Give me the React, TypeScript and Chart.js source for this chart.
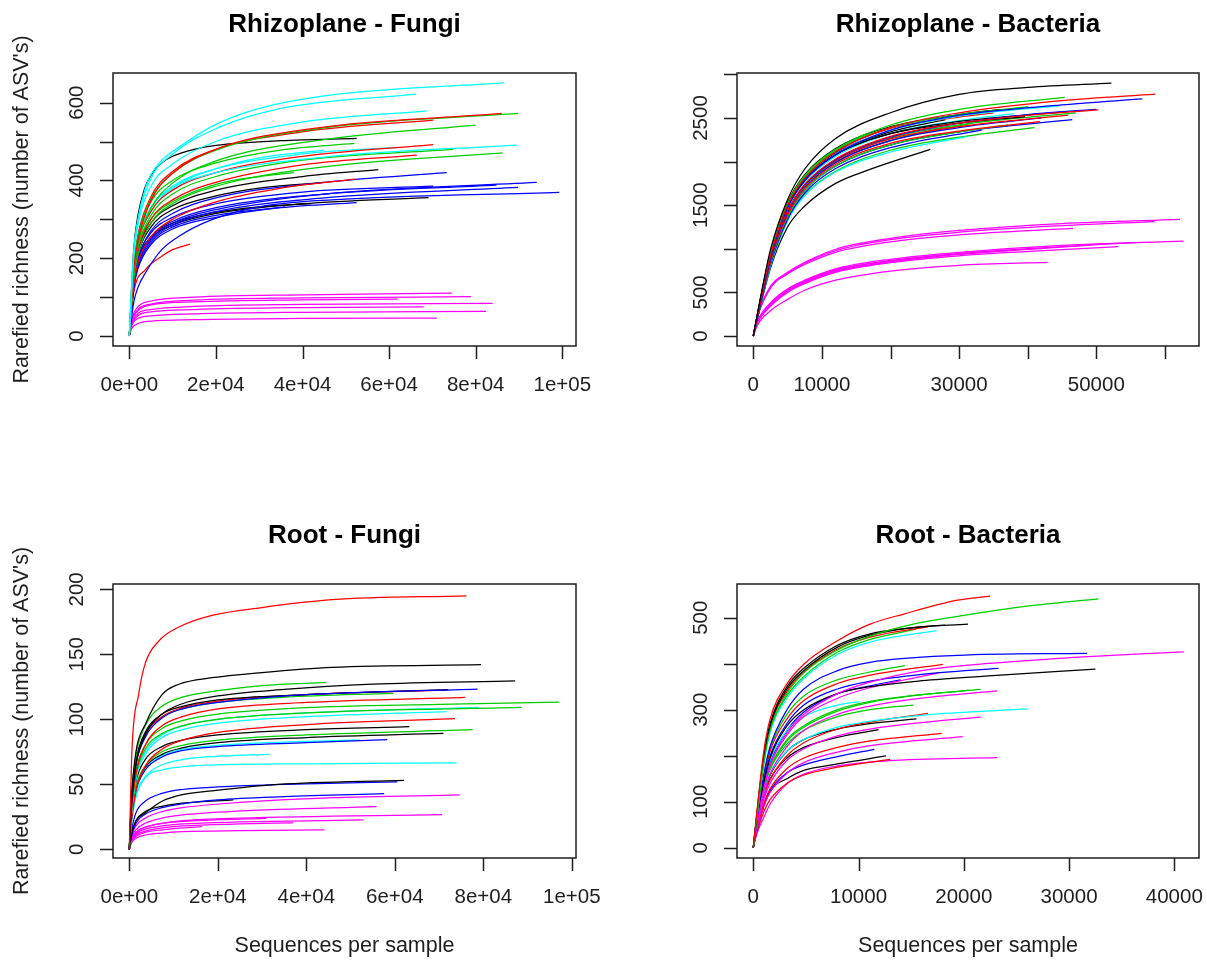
import React, { useEffect, useRef } from "react";
import { Chart, registerables } from "chart.js";

Chart.register(...registerables);

// ---------- colours per sample group ----------
const PALETTE: Record<string, string> = {
  k: "#000000",
  r: "#FF0000",
  g: "#00CD00",
  b: "#0000FF",
  c: "#00FFFF",
  m: "#FF00FF",
};

// ---------- Rhizoplane - Fungi ----------
const rfGroups = [
  "c", "c", "c", "r", "g", "r", "g", "k", "c", "r", "g", "g", "r", "c", "g", "c",
  "k", "r", "b", "g", "k", "b", "b", "b", "b", "b", "b", "b", "k", "k", "r",
  "m", "m", "m", "m", "m", "m", "m",
];
const rfCurves: number[][][] = [
  [[0, 0], [1000, 215], [2000, 300], [3700, 380], [5000, 415], [7500, 452], [11400, 485], [19100, 539], [30000, 585], [46800, 620], [86500, 651]],
  [[0, 0], [1000, 210], [2000, 295], [5000, 405], [10000, 468], [20000, 533], [35000, 585], [66200, 622]],
  [[0, 0], [1000, 200], [2000, 285], [5000, 385], [10000, 442], [20000, 500], [40000, 550], [68700, 579]],
  [[0, 0], [1000, 170], [2000, 245], [5000, 348], [10000, 418], [20000, 480], [40000, 530], [86000, 572]],
  [[0, 0], [1000, 175], [2000, 255], [5000, 352], [10000, 418], [20000, 478], [45000, 535], [89800, 572]],
  [[0, 0], [1000, 178], [2000, 258], [5000, 358], [10000, 423], [20000, 480], [40000, 525], [70200, 555]],
  [[0, 0], [1000, 165], [2000, 238], [5000, 328], [10000, 393], [20000, 450], [45000, 505], [80000, 542]],
  [[0, 0], [1000, 220], [2000, 310], [3500, 378], [5000, 413], [7500, 445], [10000, 462], [15000, 480], [20000, 490], [35000, 502], [52500, 508]],
  [[0, 0], [1000, 172], [2000, 248], [5000, 330], [10000, 380], [20000, 420], [45000, 460], [89500, 491]],
  [[0, 0], [1000, 165], [2000, 238], [5000, 320], [10000, 375], [20000, 420], [40000, 462], [70200, 492]],
  [[0, 0], [1000, 160], [2000, 228], [5000, 310], [10000, 365], [20000, 410], [40000, 452], [74800, 480]],
  [[0, 0], [1000, 145], [2000, 208], [5000, 290], [10000, 340], [20000, 385], [45000, 435], [86200, 471]],
  [[0, 0], [1000, 152], [2000, 218], [5000, 300], [10000, 350], [20000, 395], [40000, 440], [66400, 465]],
  [[0, 0], [1000, 172], [2000, 248], [5000, 330], [10000, 385], [20000, 430], [40000, 468], [62000, 485]],
  [[0, 0], [1000, 180], [2000, 258], [5000, 345], [10000, 400], [20000, 445], [35000, 478], [52000, 495]],
  [[0, 0], [1000, 165], [2000, 238], [5000, 320], [10000, 380], [20000, 430], [30000, 458], [45000, 478]],
  [[0, 0], [1000, 152], [2000, 218], [5000, 290], [10000, 335], [20000, 375], [40000, 410], [57500, 428]],
  [[0, 0], [1000, 130], [2000, 188], [5000, 255], [10000, 300], [20000, 345], [35000, 380], [52100, 403]],
  [[0, 0], [1000, 138], [2000, 198], [5000, 270], [10000, 315], [20000, 355], [45000, 395], [73300, 420]],
  [[0, 0], [1000, 160], [2000, 228], [5000, 300], [10000, 345], [20000, 390], [30000, 410], [38000, 420]],
  [[0, 0], [1000, 145], [2000, 208], [5000, 280], [10000, 325], [20000, 360], [30000, 380], [45000, 395]],
  [[0, 0], [1000, 130], [2000, 188], [5000, 250], [10000, 290], [20000, 325], [45000, 365], [94100, 395]],
  [[0, 0], [1000, 128], [2000, 183], [5000, 245], [10000, 285], [20000, 320], [45000, 355], [89800, 382]],
  [[0, 0], [1000, 130], [2000, 188], [5000, 255], [10000, 295], [20000, 330], [45000, 365], [84800, 388]],
  [[0, 0], [1000, 85], [2000, 125], [3700, 162], [7500, 222], [11400, 256], [19100, 299], [30600, 333], [46800, 350], [99300, 369]],
  [[0, 0], [1000, 138], [2000, 198], [5000, 265], [10000, 305], [20000, 340], [40000, 370], [70200, 385]],
  [[0, 0], [1000, 120], [2000, 173], [5000, 235], [10000, 275], [20000, 305], [35000, 330], [52500, 343]],
  [[0, 0], [1000, 125], [2000, 178], [5000, 240], [10000, 280], [20000, 310], [36000, 332]],
  [[0, 0], [1000, 130], [2000, 188], [5000, 250], [10000, 285], [20000, 315], [40000, 340], [69100, 356]],
  [[0, 0], [1000, 135], [2000, 193], [5000, 255], [10000, 290], [20000, 318], [30000, 332], [42000, 340]],
  [[0, 0], [1000, 110], [3700, 170], [7500, 205], [10000, 222], [14000, 236]],
  [[0, 0], [500, 40], [2000, 75], [5000, 90], [15000, 100], [40000, 106], [74500, 110]],
  [[0, 0], [500, 35], [2000, 68], [5000, 82], [15000, 92], [40000, 98], [78900, 101]],
  [[0, 0], [500, 30], [2000, 58], [5000, 68], [15000, 76], [40000, 81], [83900, 84]],
  [[0, 0], [500, 25], [2000, 45], [5000, 52], [15000, 57], [40000, 61], [82400, 63]],
  [[0, 0], [500, 18], [2000, 32], [5000, 38], [15000, 42], [40000, 45], [71000, 46]],
  [[0, 0], [500, 35], [2000, 65], [5000, 80], [15000, 88], [40000, 93], [62000, 95]],
  [[0, 0], [500, 28], [2000, 52], [5000, 62], [15000, 68], [40000, 73], [68000, 75]],
];
const rfXTicks = [0, 20000, 40000, 60000, 80000, 100000];
const rfXTickLabels = ["0e+00", "2e+04", "4e+04", "6e+04", "8e+04", "1e+05"];
const rfYTicks = [0, 100, 200, 300, 400, 500, 600];
const rfYTickLabels = ["0", "", "200", "", "400", "", "600"];

// ---------- Rhizoplane - Bacteria ----------
const rbGroups = [
  "k", "r", "b", "g", "r", "b", "k", "g", "c", "k", "r", "r", "g", "b", "c", "k",
  "g", "b", "k", "r", "c", "g", "k", "b", "r", "g",
  "m", "m", "m", "m", "m", "m", "m", "m", "m",
];
const rbCurves: number[][][] = [
  [[0, 0], [1000, 420], [2500, 990], [5000, 1565], [7500, 1915], [12000, 2265], [20000, 2560], [30000, 2770], [40000, 2850], [52200, 2900]],
  [[0, 0], [1000, 380], [2500, 920], [5000, 1500], [7500, 1810], [12000, 2110], [20000, 2390], [30000, 2560], [45000, 2700], [58600, 2775]],
  [[0, 0], [1000, 370], [2500, 900], [5000, 1470], [7500, 1780], [12000, 2080], [20000, 2360], [30000, 2530], [45000, 2650], [56700, 2718]],
  [[0, 0], [1000, 390], [2500, 940], [5000, 1520], [7500, 1840], [12000, 2140], [20000, 2420], [30000, 2600], [45400, 2737]],
  [[0, 0], [1000, 370], [2500, 880], [5000, 1430], [7500, 1740], [12000, 2030], [20000, 2290], [30000, 2440], [40000, 2530], [50300, 2592]],
  [[0, 0], [1000, 360], [2500, 870], [5000, 1420], [7500, 1730], [12000, 2020], [20000, 2280], [30000, 2440], [40000, 2540], [50000, 2600]],
  [[0, 0], [1000, 390], [2500, 930], [5000, 1480], [7500, 1790], [12000, 2080], [20000, 2320], [30000, 2440], [39600, 2515]],
  [[0, 0], [1000, 400], [2500, 950], [5000, 1510], [7500, 1830], [12000, 2130], [20000, 2390], [30000, 2540], [40100, 2630]],
  [[0, 0], [1000, 380], [2500, 910], [5000, 1480], [7500, 1790], [12000, 2090], [20000, 2360], [30000, 2520], [44500, 2640]],
  [[0, 0], [1000, 400], [2500, 950], [5000, 1500], [7500, 1800], [12000, 2080], [20000, 2320], [30000, 2460], [45900, 2572]],
  [[0, 0], [1000, 370], [2500, 880], [5000, 1430], [7500, 1730], [12000, 2010], [20000, 2260], [30000, 2400], [45900, 2534]],
  [[0, 0], [1000, 360], [2500, 860], [5000, 1390], [7500, 1690], [12000, 1970], [20000, 2210], [30000, 2350], [41800, 2458]],
  [[0, 0], [1000, 350], [2500, 840], [5000, 1370], [7500, 1670], [12000, 1950], [20000, 2190], [30000, 2340], [37200, 2420]],
  [[0, 0], [1000, 340], [2500, 820], [5000, 1340], [7500, 1640], [12000, 1920], [20000, 2160], [33300, 2362]],
  [[0, 0], [1000, 330], [2500, 800], [5000, 1320], [7500, 1610], [12000, 1880], [20000, 2110], [31100, 2286]],
  [[0, 0], [1000, 330], [2500, 780], [5000, 1250], [7500, 1490], [12000, 1750], [17000, 1910], [25800, 2140]],
  [[0, 0], [1000, 360], [2500, 870], [5000, 1420], [7500, 1720], [12000, 2010], [20000, 2270], [30000, 2420], [47000, 2560]],
  [[0, 0], [1000, 350], [2500, 850], [5000, 1400], [7500, 1700], [12000, 1990], [20000, 2240], [30000, 2390], [42000, 2500]],
  [[0, 0], [1000, 410], [2500, 960], [5000, 1530], [7500, 1850], [12000, 2150], [20000, 2400], [30000, 2540], [36000, 2600]],
  [[0, 0], [1000, 400], [2500, 950], [5000, 1520], [7500, 1830], [12000, 2120], [20000, 2380], [30000, 2510], [35000, 2560]],
  [[0, 0], [1000, 370], [2500, 900], [5000, 1460], [7500, 1770], [12000, 2060], [20000, 2320], [30000, 2470], [38000, 2550]],
  [[0, 0], [1000, 360], [2500, 870], [5000, 1410], [7500, 1710], [12000, 1990], [20000, 2240], [32000, 2440]],
  [[0, 0], [1000, 400], [2500, 940], [5000, 1490], [7500, 1800], [12000, 2100], [20000, 2340], [28000, 2480]],
  [[0, 0], [1000, 340], [2500, 830], [5000, 1370], [7500, 1670], [12000, 1950], [20000, 2190], [30000, 2340], [46500, 2480]],
  [[0, 0], [1000, 370], [2500, 880], [5000, 1420], [7500, 1720], [12000, 2000], [20000, 2240], [28500, 2400]],
  [[0, 0], [1000, 330], [2500, 800], [5000, 1330], [7500, 1620], [12000, 1890], [20000, 2130], [30000, 2280], [41000, 2390]],
  [[0, 0], [500, 200], [2500, 569], [5000, 730], [7500, 845], [12000, 995], [20000, 1120], [30000, 1210], [45000, 1290], [62200, 1338]],
  [[0, 0], [500, 190], [2500, 550], [5000, 710], [7500, 820], [12000, 960], [20000, 1080], [30000, 1160], [46600, 1234]],
  [[0, 0], [500, 195], [2500, 560], [5000, 720], [7500, 835], [12000, 980], [20000, 1105], [30000, 1190], [45000, 1265], [58500, 1311]],
  [[0, 0], [500, 150], [2500, 380], [5000, 540], [7500, 640], [12000, 770], [20000, 880], [30000, 960], [45000, 1040], [62700, 1089]],
  [[0, 0], [500, 140], [2500, 360], [5000, 520], [7500, 620], [12000, 750], [20000, 860], [30000, 945], [45000, 1025], [55600, 1070]],
  [[0, 0], [500, 130], [2500, 340], [5000, 500], [7500, 600], [12000, 730], [20000, 840], [30000, 920], [45000, 990], [53200, 1024]],
  [[0, 0], [500, 140], [2500, 370], [5000, 530], [7500, 630], [12000, 760], [20000, 865], [30000, 945], [41100, 1005]],
  [[0, 0], [500, 135], [2500, 350], [5000, 510], [7500, 610], [12000, 740], [20000, 850], [30000, 935], [49300, 1043]],
  [[0, 0], [500, 110], [2500, 290], [5000, 420], [7500, 525], [12000, 640], [20000, 745], [30000, 810], [42900, 844]],
];
const rbXTicks = [0, 10000, 20000, 30000, 40000, 50000, 60000];
const rbXTickLabels = ["0", "10000", "", "30000", "", "50000", ""];
const rbYTicks = [0, 500, 1000, 1500, 2000, 2500, 3000];
const rbYTickLabels = ["0", "500", "", "1500", "", "2500", ""];

// ---------- Root - Fungi ----------
const rtfGroups = [
  "r", "k", "k", "g", "b", "k", "r", "g", "r", "g", "g", "c", "c", "r", "g", "k",
  "k", "b", "c", "c", "c", "k", "b", "b", "k",
  "m", "m", "m", "m", "m", "m", "m", "m",
];
const rtfCurves: number[][][] = [
  [[0, 0], [600, 76], [2100, 119], [3600, 143], [6600, 160], [11200, 171], [18700, 180], [30000, 186], [45800, 192], [76200, 195]],
  [[0, 0], [500, 40], [1500, 75], [3600, 96], [7400, 119], [11200, 127], [18700, 132], [30000, 136], [45800, 140], [79500, 142]],
  [[0, 0], [500, 35], [1500, 65], [3600, 88], [7400, 104], [12000, 112], [20000, 118], [35000, 123], [55000, 127], [87200, 129.5]],
  [[0, 0], [500, 40], [1500, 72], [3600, 95], [7400, 110], [12000, 117], [20000, 122], [30000, 126], [44500, 128.4]],
  [[0, 0], [500, 35], [1500, 65], [3600, 86], [7400, 101], [12000, 108], [20000, 113], [40000, 119], [78700, 123.3]],
  [[0, 0], [500, 38], [1500, 68], [3600, 90], [7400, 104], [12000, 110], [20000, 115], [40000, 119], [72100, 122.8]],
  [[0, 0], [500, 36], [1500, 66], [3600, 88], [7400, 102], [12000, 109], [20000, 114], [40000, 119], [71700, 122.5]],
  [[0, 0], [500, 38], [1500, 67], [3600, 88], [7400, 102], [12000, 108], [20000, 113], [35000, 117], [59700, 120]],
  [[0, 0], [500, 30], [1500, 58], [3600, 80], [7400, 95], [12000, 102], [20000, 108], [40000, 113], [75900, 116.9]],
  [[0, 0], [500, 32], [1500, 60], [3600, 80], [7400, 93], [12000, 99], [20000, 104], [40000, 109], [70000, 111.5], [97200, 113.3]],
  [[0, 0], [500, 30], [1500, 57], [3600, 77], [7400, 89], [12000, 95], [20000, 100], [40000, 105], [88700, 109.2]],
  [[0, 0], [500, 28], [1500, 55], [3600, 75], [7400, 88], [12000, 95], [20000, 100], [40000, 105], [78900, 109.2]],
  [[0, 0], [500, 28], [1500, 54], [3600, 73], [7400, 86], [12000, 92], [20000, 97], [40000, 102], [71700, 105.9]],
  [[0, 0], [500, 22], [1500, 45], [3600, 64], [7400, 77], [12000, 84], [20000, 90], [40000, 96], [73600, 100.5]],
  [[0, 0], [500, 25], [1500, 48], [3600, 64], [7400, 75], [12000, 80], [20000, 84], [40000, 88], [77600, 92]],
  [[0, 0], [500, 28], [1500, 52], [3600, 69], [7400, 79], [12000, 84], [20000, 88], [40000, 92], [63300, 94.3]],
  [[0, 0], [500, 25], [1500, 47], [3600, 63], [7400, 73], [12000, 78], [20000, 82], [40000, 86], [71000, 89.2]],
  [[0, 0], [500, 24], [1500, 45], [3600, 61], [7400, 71], [12000, 76], [20000, 79], [40000, 82], [58300, 84.4]],
  [[0, 0], [500, 26], [1500, 48], [3600, 63], [7400, 72], [12000, 77], [20000, 80], [35000, 82.5], [52100, 84.1]],
  [[0, 0], [500, 22], [1500, 42], [3600, 56], [7400, 65], [12000, 69], [20000, 71.5], [31800, 73.1]],
  [[0, 0], [500, 20], [1500, 40], [3600, 55], [7400, 61], [12000, 63.5], [20000, 65], [40000, 65.8], [74000, 66.4]],
  [[0, 0], [500, 12], [1500, 22], [3600, 28], [7400, 37], [12000, 42], [18700, 45], [33700, 50], [62100, 53.1]],
  [[0, 0], [500, 14], [1500, 28], [3600, 37], [7400, 43], [12000, 46], [20000, 48], [35000, 50], [60600, 51.8]],
  [[0, 0], [500, 10], [1500, 20], [3600, 27], [7400, 32], [12000, 35], [20000, 38], [35000, 40.5], [57600, 42.8]],
  [[0, 0], [500, 12], [1500, 22], [3600, 29], [7400, 33], [12000, 35.5], [23500, 38]],
  [[0, 0], [500, 10], [1500, 18], [3600, 24], [7400, 29], [12000, 32], [25000, 36], [45000, 39.5], [74700, 41.8]],
  [[0, 0], [500, 9], [1500, 15], [3600, 20], [7400, 24], [12000, 26.5], [25000, 29.5], [55900, 32.8]],
  [[0, 0], [500, 8], [1500, 13], [3600, 17], [7400, 20], [12000, 22], [25000, 24], [70700, 26.7]],
  [[0, 0], [500, 7], [1500, 12], [3600, 15.5], [7400, 18], [12000, 19.5], [25000, 21], [52900, 22.6]],
  [[0, 0], [500, 7], [1500, 11], [3600, 14], [7400, 16.5], [12000, 18], [25000, 19.5], [37100, 20.3]],
  [[0, 0], [500, 5], [1500, 8.5], [3600, 11], [7400, 12.5], [12000, 13.5], [25000, 14.3], [44100, 14.9]],
  [[0, 0], [500, 6], [1500, 10], [3600, 13], [7400, 15], [12000, 16.5], [16400, 17.4]],
  [[0, 0], [500, 7], [1500, 13], [3600, 17], [7400, 20], [12000, 21.5], [20000, 22.8], [31000, 23.8]],
];
const rtfXTicks = [0, 20000, 40000, 60000, 80000, 100000];
const rtfXTickLabels = ["0e+00", "2e+04", "4e+04", "6e+04", "8e+04", "1e+05"];
const rtfYTicks = [0, 50, 100, 150, 200];
const rtfYTickLabels = ["0", "50", "100", "150", "200"];

// ---------- Root - Bacteria ----------
const rtbGroups = [
  "r", "g", "k", "k", "r", "c", "g", "b", "m", "k", "b", "r", "g", "m", "g", "m",
  "g", "c", "c", "g", "m", "r", "k", "r", "m", "k", "b", "k", "r", "m", "b",
];
const rtbCurves: number[][][] = [
  [[0, 0], [300, 70], [1000, 210], [1600, 280], [3200, 356], [4800, 399], [8000, 450], [11100, 486], [14300, 508], [19400, 538], [22500, 547]],
  [[0, 0], [300, 60], [1000, 185], [1600, 255], [3200, 335], [4800, 380], [8000, 430], [11100, 460], [15000, 485], [20000, 505], [26000, 525], [32800, 541]],
  [[0, 0], [300, 65], [1000, 195], [1600, 265], [3200, 345], [4800, 385], [8000, 436], [11100, 462], [15000, 478], [20400, 486]],
  [[0, 0], [300, 65], [1000, 200], [1600, 270], [3200, 350], [4800, 390], [8000, 440], [11100, 465], [15000, 478], [18200, 484]],
  [[0, 0], [300, 60], [1000, 190], [1600, 262], [3200, 340], [4800, 382], [8000, 432], [11100, 458], [16600, 480]],
  [[0, 0], [300, 58], [1000, 180], [1600, 250], [3200, 325], [4800, 368], [8000, 420], [11100, 447], [17400, 472]],
  [[0, 0], [300, 60], [1000, 185], [1600, 255], [3200, 330], [4800, 372], [8000, 425], [11100, 453], [15500, 475]],
  [[0, 0], [300, 55], [1000, 160], [1600, 220], [3200, 300], [4800, 345], [8000, 385], [11100, 403], [19400, 418], [31700, 422.6]],
  [[0, 0], [300, 45], [1000, 130], [1600, 180], [3200, 250], [4800, 290], [8000, 335], [11100, 360], [16000, 385], [22000, 400], [30000, 413], [40900, 426]],
  [[0, 0], [300, 50], [1000, 140], [1600, 195], [3200, 265], [4800, 300], [8000, 335], [11100, 350], [16000, 363], [22000, 373], [32500, 388]],
  [[0, 0], [300, 50], [1000, 145], [1600, 200], [3200, 270], [4800, 310], [8000, 345], [11100, 362], [16000, 377], [23300, 390]],
  [[0, 0], [300, 52], [1000, 150], [1600, 210], [3200, 280], [4800, 320], [8000, 357], [11100, 375], [18000, 398.7]],
  [[0, 0], [300, 55], [1000, 155], [1600, 215], [3200, 290], [4800, 330], [8000, 365], [11100, 382], [14400, 395.8]],
  [[0, 0], [300, 45], [1000, 130], [1600, 180], [3200, 245], [4800, 285], [8000, 325], [11100, 348], [17600, 380]],
  [[0, 0], [300, 50], [1000, 130], [1600, 175], [3200, 235], [4800, 265], [8000, 300], [11100, 318], [16000, 333], [21600, 344]],
  [[0, 0], [300, 42], [1000, 115], [1600, 160], [3200, 220], [4800, 255], [8000, 290], [11100, 308], [16000, 325], [23200, 340.7]],
  [[0, 0], [300, 48], [1000, 128], [1600, 172], [3200, 232], [4800, 262], [8000, 297], [11100, 316], [15000, 330], [20500, 342]],
  [[0, 0], [300, 45], [1000, 120], [1600, 160], [3200, 210], [4800, 235], [8000, 262], [11100, 275], [17000, 290], [26100, 301.6]],
  [[0, 0], [300, 50], [1000, 140], [1600, 190], [3200, 255], [4800, 285], [8000, 310], [10100, 317.5]],
  [[0, 0], [300, 48], [1000, 125], [1600, 170], [3200, 225], [4800, 255], [8000, 285], [11100, 300], [15200, 310]],
  [[0, 0], [300, 40], [1000, 105], [1600, 140], [3200, 190], [4800, 215], [8000, 243], [11100, 258], [16000, 272], [21600, 284]],
  [[0, 0], [300, 42], [1000, 110], [1600, 148], [3200, 200], [4800, 228], [8000, 258], [11100, 273], [16600, 292]],
  [[0, 0], [300, 45], [1000, 115], [1600, 150], [3200, 195], [4800, 218], [8000, 240], [11900, 256.7]],
  [[0, 0], [300, 38], [1000, 95], [1600, 128], [3200, 172], [4800, 195], [8000, 218], [11100, 232], [17900, 248.7]],
  [[0, 0], [300, 35], [1000, 90], [1600, 120], [3200, 162], [4800, 185], [8000, 208], [11100, 222], [19900, 241.4]],
  [[0, 0], [300, 45], [1000, 118], [1600, 158], [3200, 210], [4800, 235], [8000, 258], [11100, 270], [15500, 280]],
  [[0, 0], [300, 38], [1000, 95], [1600, 125], [3200, 163], [4800, 180], [8000, 198], [11500, 214]],
  [[0, 0], [300, 35], [1000, 90], [1600, 124], [3200, 150], [4800, 168], [8000, 182], [12600, 199.4]],
  [[0, 0], [300, 30], [1000, 78], [1600, 105], [3200, 140], [4800, 158], [8000, 175], [13000, 192]],
  [[0, 0], [300, 28], [1000, 66], [1600, 95], [3200, 139], [4800, 160], [8000, 178], [12700, 189], [23200, 195.8]],
  [[0, 0], [300, 48], [1000, 135], [1600, 185], [3200, 255], [4800, 295], [8000, 335], [11100, 352], [14000, 365]],
];
const rtbXTicks = [0, 10000, 20000, 30000, 40000];
const rtbXTickLabels = ["0", "10000", "20000", "30000", "40000"];
const rtbYTicks = [0, 100, 200, 300, 400, 500];
const rtbYTickLabels = ["0", "100", "", "300", "", "500"];

const Y_TITLE = "Rarefied richness (number of ASV's)";
const X_TITLE = "Sequences per sample";

// ---------- layout (pixels) ----------
type Box = { left: number; top: number; right: number; bottom: number };
type Frame = { left: number; top: number; width: number; height: number };
type PanelSpec = {
  title: string;
  groups: string[];
  curves: number[][][];
  xTicks: number[];
  xTickLabels: string[];
  yTicks: number[];
  yTickLabels: string[];
  xLim: [number, number];
  yLim: [number, number];
  xTitle: string | null;
  yTitle: string | null;
  frame: Frame;
  box: Box;
};

const PANELS: PanelSpec[] = [
  {
    title: "Rhizoplane - Fungi",
    groups: rfGroups,
    curves: rfCurves,
    xTicks: rfXTicks,
    xTickLabels: rfXTickLabels,
    yTicks: rfYTicks,
    yTickLabels: rfYTickLabels,
    xLim: [-3764, 103163],
    yLim: [-25.7, 676.1],
    xTitle: null,
    yTitle: Y_TITLE,
    frame: { left: 0, top: 0, width: 604, height: 483 },
    box: { left: 113, top: 73, right: 576, bottom: 346 },
  },
  {
    title: "Rhizoplane - Bacteria",
    groups: rbGroups,
    curves: rbCurves,
    xTicks: rbXTicks,
    xTickLabels: rbXTickLabels,
    yTicks: rbYTicks,
    yTickLabels: rbYTickLabels,
    xLim: [-2376, 64970],
    yLim: [-114.7, 3016],
    xTitle: null,
    yTitle: null,
    frame: { left: 604, top: 0, width: 603, height: 483 },
    box: { left: 737, top: 73, right: 1199, bottom: 346 },
  },
  {
    title: "Root - Fungi",
    groups: rtfGroups,
    curves: rtfCurves,
    xTicks: rtfXTicks,
    xTickLabels: rtfXTickLabels,
    yTicks: rtfYTicks,
    yTickLabels: rtfYTickLabels,
    xLim: [-3684, 100954],
    yLim: [-6.7, 204.1],
    xTitle: X_TITLE,
    yTitle: Y_TITLE,
    frame: { left: 0, top: 483, width: 604, height: 483 },
    box: { left: 113, top: 584, right: 576, bottom: 858 },
  },
  {
    title: "Root - Bacteria",
    groups: rtbGroups,
    curves: rtbCurves,
    xTicks: rtbXTicks,
    xTickLabels: rtbXTickLabels,
    yTicks: rtbYTicks,
    yTickLabels: rtbYTickLabels,
    xLim: [-1549, 42346],
    yLim: [-22.4, 573.3],
    xTitle: X_TITLE,
    yTitle: null,
    frame: { left: 604, top: 483, width: 603, height: 483 },
    box: { left: 737, top: 584, right: 1199, bottom: 858 },
  },
];

const FONT = '"Liberation Sans", Arial, Helvetica, sans-serif';
const INK = "#1e1e1e";

function Panel({ spec }: { spec: PanelSpec }) {
  const ref = useRef<HTMLCanvasElement | null>(null);

  useEffect(() => {
    const canvas = ref.current;
    if (!canvas) return;
    const f = spec.frame;
    const b = spec.box;

    const datasets = spec.curves.map((pts, i) => ({
      label: `s${i + 1}`,
      data: pts.map(([x, y]) => ({ x, y })),
      borderColor: PALETTE[spec.groups[i]],
      backgroundColor: PALETTE[spec.groups[i]],
      borderWidth: 1.25,
      pointRadius: 0,
      pointHoverRadius: 0,
      fill: false,
      cubicInterpolationMode: "monotone" as const,
    }));

    const rFrame = {
      id: "rFrame",
      afterDraw(chart: any) {
        const ctx = chart.ctx as CanvasRenderingContext2D;
        const ca = chart.chartArea;
        const xs = chart.scales.x;
        const ys = chart.scales.y;
        ctx.save();
        ctx.strokeStyle = INK;
        ctx.lineWidth = 1.5;
        ctx.strokeRect(ca.left, ca.top, ca.right - ca.left, ca.bottom - ca.top);

        ctx.beginPath();
        spec.xTicks.forEach((v) => {
          const px = Math.round(xs.getPixelForValue(v)) + 0.5;
          ctx.moveTo(px, ca.bottom);
          ctx.lineTo(px, ca.bottom + 13);
        });
        spec.yTicks.forEach((v) => {
          const py = Math.round(ys.getPixelForValue(v)) + 0.5;
          ctx.moveTo(ca.left, py);
          ctx.lineTo(ca.left - 13, py);
        });
        ctx.stroke();

        ctx.fillStyle = INK;
        ctx.font = `20.5px ${FONT}`;
        ctx.textAlign = "center";
        ctx.textBaseline = "alphabetic";
        spec.xTicks.forEach((v, i) => {
          const t = spec.xTickLabels[i];
          if (t) ctx.fillText(t, xs.getPixelForValue(v), ca.bottom + 45);
        });
        spec.yTicks.forEach((v, i) => {
          const t = spec.yTickLabels[i];
          if (!t) return;
          ctx.save();
          ctx.translate(ca.left - 30.5, ys.getPixelForValue(v));
          ctx.rotate(-Math.PI / 2);
          ctx.fillText(t, 0, 0);
          ctx.restore();
        });

        ctx.fillStyle = "#000";
        ctx.font = `bold 26px ${FONT}`;
        ctx.fillText(spec.title, (ca.left + ca.right) / 2, ca.top - 41);

        ctx.fillStyle = INK;
        ctx.font = `21.5px ${FONT}`;
        if (spec.xTitle) {
          ctx.fillText(spec.xTitle, (ca.left + ca.right) / 2, ca.bottom + 94);
        }
        if (spec.yTitle) {
          ctx.save();
          ctx.translate(ca.left - 85, (ca.top + ca.bottom) / 2);
          ctx.rotate(-Math.PI / 2);
          ctx.fillText(spec.yTitle, 0, 0);
          ctx.restore();
        }
        ctx.restore();
      },
    };

    const chart = new Chart(canvas, {
      type: "line",
      data: { datasets },
      options: {
        responsive: false,
        animation: false,
        devicePixelRatio: 1,
        events: [],
        layout: {
          padding: {
            left: b.left - f.left,
            top: b.top - f.top,
            right: f.left + f.width - b.right,
            bottom: f.top + f.height - b.bottom,
          },
        },
        plugins: {
          legend: { display: false },
          tooltip: { enabled: false },
          title: { display: false },
        },
        scales: {
          x: { type: "linear", min: spec.xLim[0], max: spec.xLim[1], display: false },
          y: { type: "linear", min: spec.yLim[0], max: spec.yLim[1], display: false },
        },
      },
      plugins: [rFrame],
    });

    return () => chart.destroy();
  }, [spec]);

  const f = spec.frame;
  return (
    <canvas
      ref={ref}
      width={f.width}
      height={f.height}
      style={{ position: "absolute", left: f.left, top: f.top, width: f.width, height: f.height }}
    />
  );
}

export default function App() {
  return (
    <div
      style={{
        position: "absolute",
        left: 0,
        top: 0,
        width: 1207,
        height: 966,
        background: "#ffffff",
        overflow: "hidden",
      }}
    >
      {PANELS.map((p) => (
        <Panel key={p.title} spec={p} />
      ))}
    </div>
  );
}
